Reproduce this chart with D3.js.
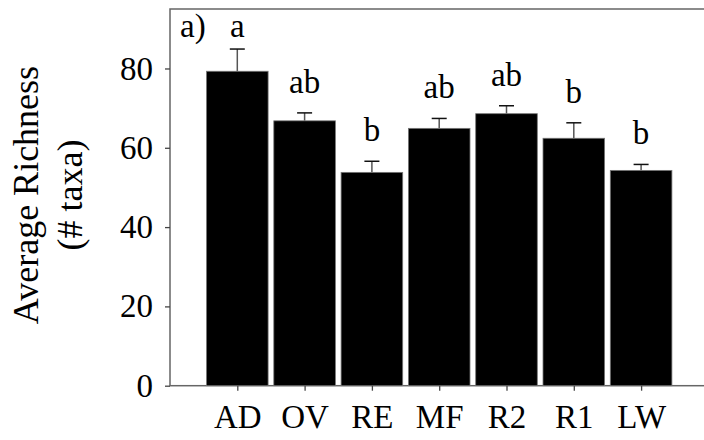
<!DOCTYPE html>
<html>
<head>
<meta charset="utf-8">
<script src="https://cdn.jsdelivr.net/npm/d3@7"></script>
<style>
  body { margin: 0; background: #fff; }
</style>
</head>
<body>
<div id="chart"></div>
<script>
// values
const sites = ["AD", "OV", "RE", "MF", "R2", "R1", "LW"]
const richness = [79.3, 66.8, 53.8, 64.9, 68.6, 62.4, 54.3]
const stdErr = [5.6, 2.0, 2.8, 2.5, 2.0, 3.9, 1.5]
const groups = ["a", "ab", "b", "ab", "ab", "b", "b"]
const yTicks = [0, 20, 40, 60, 80]

const FONT = "'Liberation Serif', 'Times New Roman', Tinos, serif"
const W = 704, H = 440
const margin = {top: 9, left: 170}
const plotW = 538.4, plotH = 376.7

const svg = d3.select("#chart").append("svg")
    .attr("width", W)
    .attr("height", H)
    .style("font-family", FONT)

const g = svg.append("g")
    .attr("transform", "translate(" + margin.left + "," + margin.top + ")")

const x = d3.scalePoint().domain(sites).range([0, plotW]).padding(1)
const y = d3.scaleLinear().domain([0, 95]).range([plotH, 0])
const barW = 61.6

// frame
g.append("rect")
    .attr("width", plotW).attr("height", plotH)
    .attr("fill", "none")
    .attr("stroke", "#666")
    .attr("stroke-width", 1.5)

const data = sites.map((s, i) => ({site: s, v: richness[i], se: stdErr[i], grp: groups[i]}))

// error bars (upper only)
const eb = g.selectAll(".err").data(data).enter().append("g").attr("class", "err")
eb.append("line")
    .attr("x1", d => x(d.site)).attr("x2", d => x(d.site))
    .attr("y1", d => y(d.v)).attr("y2", d => y(d.v + d.se))
    .attr("stroke", "#555").attr("stroke-width", 1.5)
eb.append("line")
    .attr("x1", d => x(d.site) - 7.5).attr("x2", d => x(d.site) + 7.5)
    .attr("y1", d => y(d.v + d.se)).attr("y2", d => y(d.v + d.se))
    .attr("stroke", "#111").attr("stroke-width", 1.5)

g.selectAll(".bar").data(data).enter().append("rect")
    .attr("class", "bar")
    .attr("x", d => x(d.site) - barW / 2)
    .attr("width", barW)
    .attr("y", d => y(d.v))
    .attr("height", d => plotH - y(d.v))
    .attr("fill", "#000")
    .attr("stroke", "#777")
    .attr("stroke-width", 0.8)

// significance letters
g.selectAll(".grp").data(data).enter().append("text")
    .attr("class", "grp")
    .attr("x", d => x(d.site))
    .attr("y", d => Math.max(y(d.v + d.se) - 20, 28))
    .attr("text-anchor", "middle")
    .style("font-family", FONT)
    .style("font-size", "33px")
    .text(d => d.grp)

g.append("text")
    .attr("x", 10).attr("y", 28)
    .style("font-family", FONT)
    .style("font-size", "33px")
    .text("a)")

// axes
const yAxis = g.append("g")
    .call(d3.axisLeft(y).tickValues(yTicks).tickSize(5).tickPadding(12))
const xAxis = g.append("g")
    .attr("transform", "translate(0," + plotH + ")")
    .call(d3.axisBottom(x).tickSize(5).tickPadding(13.5))

;[yAxis, xAxis].forEach(a => {
    a.attr("font-family", null).attr("font-size", null)
    a.select(".domain").remove()
    a.selectAll("line").attr("stroke", "#444").attr("stroke-width", 1.3)
    a.selectAll("text")
        .attr("fill", "#000")
        .style("font-family", FONT)
        .style("font-size", "33px")
})

// y label
const lab = svg.append("text")
    .attr("transform", "translate(0,195) rotate(-90)")
    .attr("text-anchor", "middle")
    .style("font-family", FONT)
    .style("font-size", "36px")
lab.append("tspan").attr("x", 0).attr("y", 38).text("Average Richness")
lab.append("tspan").attr("x", 0).attr("y", 82).text("(# taxa)")
</script>
</body>
</html>
